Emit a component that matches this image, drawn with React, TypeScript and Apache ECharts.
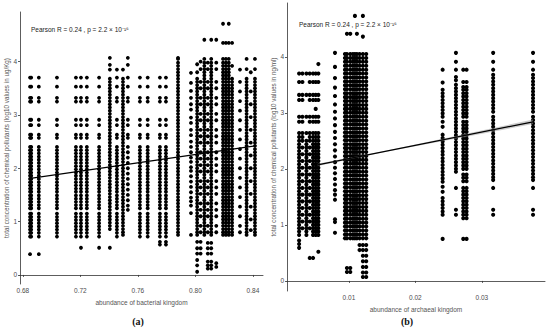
import React, { useEffect, useRef } from "react";
import * as echarts from "echarts";

// ---------- Panel (a): abundance of bacterial kingdom ----------
const A_X_TICKS = [0.68, 0.72, 0.76, 0.8, 0.84];
const Y_TICKS = [0, 1, 2, 3, 4];

const A_UP = "3.70 3.53 3.32 3.25 2.91 2.81 2.63 2.57";
const A_LOW = "2.40 2.34 2.28 2.22 2.16 2.10 2.04 1.98 1.92 1.86 1.80 1.74 1.68 1.62 1.56 1.49 1.43 1.37 1.31 1.25 1.15 1.09 1.03 0.97 0.91 0.85 0.79 0.72";
const D_TOP = "4.05 3.98 3.92 3.86 3.80 3.74";
const D_MID = "3.68 3.62 3.56 3.50 3.44 3.38 3.32 3.26 3.20 3.14 3.08 3.02 2.96 2.90 2.84 2.78 2.72 2.66 2.60 2.54 2.48 2.42";
const D_LOW = "2.36 2.30 2.24 2.18 2.12 2.06 2.00 1.94 1.88 1.82 1.76 1.70 1.64 1.58 1.52 1.46 1.40 1.34 1.28 1.22 1.16 1.10 1.04 0.98 0.92 0.86 0.80 0.75";
const D_SPARSE = "3.86 3.62 3.50 3.32 3.20 3.02 2.90 2.72 2.60 2.48 2.30 2.18 2.06 1.94 1.76 1.64 1.52 1.34 1.22 1.10 0.92 0.80";

const COLS_A: [number, string][] = [
  [0.685, `${A_UP} ${A_LOW} 0.39`],
  [0.6858, `${A_UP} ${A_LOW}`],
  [0.6911, `${A_UP} ${A_LOW} 0.39`],
  [0.7037, `${A_UP} ${A_LOW}`],
  [0.7169, `${A_UP} ${A_LOW}`],
  [0.7204, `${A_UP} ${A_LOW} 0.51`],
  [0.7245, `${A_UP} ${A_LOW}`],
  [0.733, `${A_UP} ${A_LOW} 0.51`],
  [0.7405, `4.07 3.94 3.85 ${D_MID} 2.36 2.30 2.24 2.18 2.12 2.06 2.00 1.94 1.88 1.82 1.76 1.70 1.64 1.58 1.52 1.46 1.40 1.34 1.28 1.22 1.16 1.10 1.04 0.98 0.92 0.86 0.51`],
  [0.7454, `3.85 ${A_UP} ${A_LOW}`],
  [0.7496, `3.85 ${D_MID} ${D_LOW}`],
  [0.753, "4.07 3.94 3.70 3.53 3.32 3.25 2.91 2.81 2.63 2.57 2.40 2.30 2.20 2.10 2.00 1.90 1.80 1.70 1.60 1.50 1.40 1.30 1.22"],
  [0.7614, `${A_UP} ${A_LOW}`],
  [0.7668, `${A_UP} ${A_LOW}`],
  [0.7753, `${A_UP} ${A_LOW} 0.62 0.57`],
  [0.7795, `${A_UP} ${A_LOW} 0.62 0.57`],
  [0.7879, `4.07 ${D_TOP} ${D_MID} ${D_LOW}`],
  [0.7969, "3.79 3.60 3.45 3.32 3.20 3.10 2.95 2.85 2.72 2.62 2.50 2.40 2.30 2.20 2.12 2.02 1.95 1.85 1.75 1.65 1.55 1.45 1.38 1.30 1.16 0.75"],
  [0.8012, `3.95 3.80 ${D_MID} ${D_LOW} 0.62 0.50 0.40 0.28 0.18 0.06`],
  [0.8036, `4.00 ${D_SPARSE} 0.62 0.50 0.40`],
  [0.8062, `4.41 ${D_TOP} ${D_MID} ${D_LOW}`],
  [0.8086, `3.98 ${D_SPARSE} 0.60 0.50 0.40 0.25 0.18 0.12`],
  [0.811, `4.41 ${D_TOP} ${D_MID} ${D_LOW} 0.60 0.50 0.40 0.25 0.18 0.12`],
  [0.8145, `4.41 3.98 ${D_SPARSE} 0.22 0.15`],
  [0.8192, `4.71 4.35 ${D_TOP} ${D_MID} ${D_LOW}`],
  [0.8212, `4.35 ${D_TOP} ${D_MID} ${D_LOW}`],
  [0.8232, `4.71 4.35 ${D_TOP} ${D_MID} ${D_LOW}`],
  [0.8255, `4.35 3.92 ${D_MID} ${D_LOW}`],
  [0.831, `3.85 3.62 3.44 3.26 3.08 2.90 2.72 2.54 2.36 2.18 2.00 1.82 1.64 1.46 1.28 1.10 0.92 0.80`],
  [0.8356, `4.05 3.86 ${D_MID} ${D_LOW}`],
  [0.8385, "3.80 3.44 3.20 2.96 2.72 2.48 2.24 2.00 1.76 1.52 1.28 1.04 0.84"],
  [0.8414, `4.05 3.86 ${D_MID} ${D_LOW}`],
];

const A_FIT: [number, number][] = [
  [0.6853, 1.81],
  [0.8415, 2.42],
];

// ---------- Panel (b): abundance of archaeal kingdom ----------
const B_X_TICKS = [0.01, 0.02, 0.03];

const B_UP = "3.70 3.55 3.32 3.23 2.93 2.84 2.64 2.57";
const B_LOW = "2.50 2.44 2.38 2.32 2.26 2.20 2.14 2.08 2.02 1.96 1.90 1.84 1.78 1.72 1.66 1.60 1.54 1.48 1.42 1.36 1.30 1.24 1.18 1.12 1.06 1.00 0.94 0.88 0.82";
const B_LOW_SPARSE = "2.50 2.38 2.26 2.14 2.02 1.90 1.78 1.66 1.54 1.42 1.30 1.18 1.06 0.94";
const B_DENSE = "4.05 3.98 3.91 3.84 3.77 3.70 3.63 3.56 3.49 3.42 3.35 3.28 3.21 3.14 3.07 3.00 2.93 2.86 2.79 2.72 2.65 2.58 2.51 2.44 2.37 2.30 2.23 2.16 2.09 2.02 1.95 1.88 1.81 1.74 1.67 1.60 1.53 1.46 1.39 1.32 1.25 1.18 1.11 1.04 0.97 0.90 0.83 0.76";
const R_A = "3.77 3.54 3.41 3.35 3.29 3.23 3.17 3.11 3.05 2.99 2.93 2.84 2.75 2.61 2.55 2.49 2.43 2.37 2.31 2.25 2.19 2.13 2.07 2.01 1.95 1.89 1.83 1.77 1.68 1.59 1.48 1.42 1.36 1.30 1.24 1.18 0.75";
const R_B = "4.07 3.91 3.77 3.64 3.58 3.50 3.44 3.38 3.32 3.26 3.20 3.14 3.08 3.02 2.96 2.90 2.84 2.78 2.72 2.66 2.60 2.54 2.48 2.42 2.36 2.30 2.24 2.18 2.12 2.06 2.00 1.95 1.66 1.27 1.18";
const R_C = "3.77 3.55 3.46 3.41 3.35 3.29 3.23 3.17 3.11 3.05 2.99 2.93 2.84 2.78 2.72 2.66 2.60 2.54 2.48 2.42 2.36 2.30 2.24 2.18 2.12 2.06 2.00 1.90 1.84 1.78 1.66 1.60 1.54 1.48 1.42 1.36 1.30 1.24 1.18 1.12 0.75";
const R_D = "4.07 3.91 3.77 3.68 3.62 3.56 3.50 3.44 3.38 3.32 3.26 3.20 3.14 3.08 3.02 2.93 2.87 2.81 2.75 2.69 2.63 2.57 2.51 2.45 2.39 2.33 2.27 2.21 2.15 2.09 2.03 1.97 1.91 1.85 1.80 1.66 1.27 1.18";

const COLS_B: [number, string][] = [
  [0.0025, `${B_UP} ${B_LOW} 0.72 0.66 0.59`],
  [0.003, `${B_UP} ${B_LOW_SPARSE}`],
  [0.0036, `3.70 3.32 2.93 2.64 ${B_LOW}`],
  [0.0041, `${B_UP} ${B_LOW_SPARSE} 0.41`],
  [0.0046, `${B_UP} ${B_LOW} 0.41`],
  [0.005, `${B_UP} 3.07 ${B_LOW}`],
  [0.0054, `3.87 ${B_UP} ${B_LOW} 0.52`],
  [0.0079, "4.07 3.82 3.62 3.45 3.30 3.15 3.02 2.90 2.78 2.66 2.55 2.44 2.33 2.22 2.12 2.02 1.92 1.82 1.72 1.62 1.54 1.45 1.10 1.05 0.86"],
  [0.0094, `${B_DENSE}`],
  [0.0097, `4.41 ${B_DENSE} 0.23 0.16`],
  [0.0102, `4.41 ${B_DENSE} 0.23 0.16`],
  [0.0106, `${B_DENSE}`],
  [0.0109, `4.73 ${B_DENSE}`],
  [0.0112, `4.41 ${B_DENSE}`],
  [0.0116, `${B_DENSE} 0.64 0.55`],
  [0.0121, `4.73 4.36 ${B_DENSE} 0.64 0.55 0.45 0.35 0.25 0.15 0.07`],
  [0.0126, `${B_DENSE} 0.64 0.55 0.45 0.35 0.25 0.15 0.07`],
  [0.0241, R_A],
  [0.0261, R_B],
  [0.0272, R_C],
  [0.0277, R_C],
  [0.0317, R_D],
  [0.0377, R_D],
];

const B_FIT: [number, number][] = [
  [0.0053, 2.07],
  [0.0377, 2.84],
];
const B_BAND_X = [0.0053, 0.015, 0.0377];
const B_BAND_LO = [2.05, 2.29, 2.8];
const B_BAND_HI = [2.09, 2.31, 2.88];

const ANNOT = "Pearson R = 0.24 , p = 2.2 × 10⁻¹⁶";

const toPoints = (cols: [number, string][]) =>
  cols.flatMap(([x, ys]) =>
    ys
      .trim()
      .split(/\s+/)
      .map((y) => [x, Number(y)])
  );

const FONT = "Liberation Sans, Arial, sans-serif";
const AXIS_COLOR = "#333";
const LABEL_COLOR = "#4d4d4d";

function xAxisCfg(grid: number, min: number, max: number, ticks: number[], name: string, digits: number, gap: number) {
  return {
    type: "value",
    gridIndex: grid,
    min,
    max,
    name,
    nameLocation: "middle",
    nameGap: gap,
    nameTextStyle: { fontSize: 6.5, color: "#555", fontFamily: FONT },
    axisLine: { show: true, lineStyle: { color: AXIS_COLOR, width: 0.8 } },
    axisTick: { show: true, length: 2, customValues: ticks, lineStyle: { color: AXIS_COLOR, width: 0.8 } },
    axisLabel: {
      customValues: ticks,
      formatter: (v: number) => v.toFixed(digits),
      fontSize: 6.5,
      color: LABEL_COLOR,
      fontFamily: FONT,
      margin: 3,
    },
    splitLine: { show: false },
  };
}

function yAxisCfg(grid: number, min: number, max: number, name: string) {
  return {
    type: "value",
    gridIndex: grid,
    min,
    max,
    name,
    nameLocation: "middle",
    nameGap: 10,
    nameTextStyle: { fontSize: 6.3, color: "#555", fontFamily: FONT },
    axisLine: { show: true, lineStyle: { color: AXIS_COLOR, width: 0.8 } },
    axisTick: { show: true, length: 2, customValues: Y_TICKS, lineStyle: { color: AXIS_COLOR, width: 0.8 } },
    axisLabel: {
      customValues: Y_TICKS,
      formatter: (v: number) => String(v),
      fontSize: 6.5,
      color: LABEL_COLOR,
      fontFamily: FONT,
      margin: 3,
    },
    splitLine: { show: false },
  };
}

export default function App() {
  const ref = useRef<HTMLDivElement>(null);
  useEffect(() => {
    if (!ref.current) return;
    const chart = echarts.init(ref.current, undefined, { renderer: "svg" });
    const option: any = {
      animation: false,
      backgroundColor: "#fff",
      grid: [
        { left: 20, top: 12, width: 243, height: 272, outerBoundsMode: "none", containLabel: false },
        { left: 287, top: 3, width: 258, height: 288, outerBoundsMode: "none", containLabel: false },
      ],
      xAxis: [
        xAxisCfg(0, 0.678, 0.847, A_X_TICKS, "abundance of bacterial kingdom", 2, 10),
        xAxisCfg(1, 0.00068, 0.0395, B_X_TICKS, "abundance of archaeal kingdom", 2, 10),
      ],
      yAxis: [
        yAxisCfg(0, -0.17, 4.93, "total concentration of chemical pollutants (log10 values in ug/Kg)"),
        yAxisCfg(1, -0.18, 4.96, "total concentration of chemical pollutants (log10 values in ng/ml)"),
      ],
      series: [
        {
          type: "scatter",
          xAxisIndex: 0,
          yAxisIndex: 0,
          data: toPoints(COLS_A),
          symbolSize: 3.8,
          itemStyle: { color: "#000", opacity: 1 },
          silent: true,
        },
        {
          type: "scatter",
          xAxisIndex: 1,
          yAxisIndex: 1,
          data: toPoints(COLS_B),
          symbolSize: 4.1,
          itemStyle: { color: "#000", opacity: 1 },
          silent: true,
        },
        {
          type: "custom",
          xAxisIndex: 1,
          yAxisIndex: 1,
          silent: true,
          z: 3,
          data: [[B_BAND_X[0], B_BAND_LO[0]]],
          renderItem: (_p: any, api: any) => {
            const pts: number[][] = [];
            B_BAND_X.forEach((x, i) => pts.push(api.coord([x, B_BAND_HI[i]])));
            for (let i = B_BAND_X.length - 1; i >= 0; i--) pts.push(api.coord([B_BAND_X[i], B_BAND_LO[i]]));
            return { type: "polygon", shape: { points: pts }, style: { fill: "#999", opacity: 0.5 } };
          },
        },
        {
          type: "line",
          xAxisIndex: 0,
          yAxisIndex: 0,
          data: A_FIT,
          symbol: "none",
          z: 4,
          lineStyle: { color: "#000", width: 1.3 },
          silent: true,
        },
        {
          type: "line",
          xAxisIndex: 1,
          yAxisIndex: 1,
          data: B_FIT,
          symbol: "none",
          z: 4,
          lineStyle: { color: "#000", width: 1.3 },
          silent: true,
        },
      ],
      graphic: [
        {
          type: "text",
          left: 31,
          top: 26,
          style: { text: ANNOT, fontSize: 6.5, fill: "#222", fontFamily: FONT },
        },
        {
          type: "text",
          left: 299,
          top: 21,
          style: { text: ANNOT, fontSize: 6.5, fill: "#222", fontFamily: FONT },
        },
        {
          type: "text",
          x: 138,
          y: 321,
          style: {
            text: "(a)",
            fontSize: 10,
            fontWeight: "bold",
            fill: "#111",
            fontFamily: "Liberation Serif, DejaVu Serif, serif",
            align: "center",
            verticalAlign: "middle",
          },
        },
        {
          type: "text",
          x: 407,
          y: 321,
          style: {
            text: "(b)",
            fontSize: 10,
            fontWeight: "bold",
            fill: "#111",
            fontFamily: "Liberation Serif, DejaVu Serif, serif",
            align: "center",
            verticalAlign: "middle",
          },
        },
      ],
    };
    chart.setOption(option);
    return () => chart.dispose();
  }, []);
  return (
    <div
      ref={ref}
      style={{ position: "absolute", left: 0, top: 0, width: 550, height: 331, background: "#fff" }}
    />
  );
}
